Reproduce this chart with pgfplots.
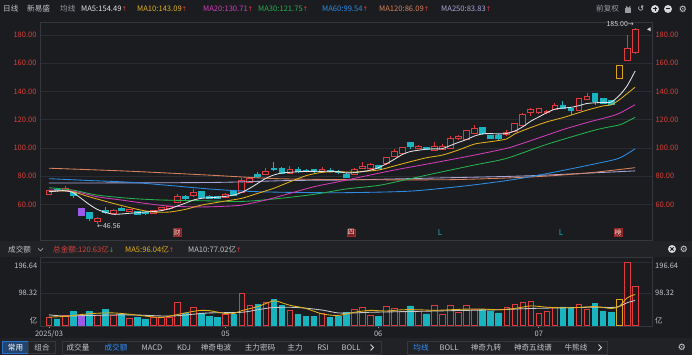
\documentclass[border=0pt]{standalone}
\usepackage{pgfplots}
\pgfplotsset{compat=1.18}
\usepackage{pgfplotstable}
\usepackage{fontspec}
\setmainfont{Noto Sans CJK SC}
\newfontfamily\dv{DejaVu Sans}

\definecolor{bg}{HTML}{1B1C20}
\definecolor{band}{HTML}{212226}
\definecolor{gridc}{HTML}{2B2C31}
\definecolor{border}{HTML}{36373C}
\definecolor{upred}{HTML}{E03A3E}
\definecolor{dncyan}{HTML}{19B4C0}
\definecolor{purp}{HTML}{9B5BE8}
\definecolor{goldc}{HTML}{E0A51E}
\definecolor{labred}{HTML}{D8413B}
\definecolor{txt}{HTML}{C4C4CA}
\definecolor{dim}{HTML}{9A9AA2}
\definecolor{light}{HTML}{D6D6DA}
\definecolor{ma5}{HTML}{E4E4E8}
\definecolor{ma10}{HTML}{E3B01C}
\definecolor{ma20}{HTML}{D23CB9}
\definecolor{ma30}{HTML}{27B04E}
\definecolor{ma60}{HTML}{2D8DE4}
\definecolor{ma120}{HTML}{D9805C}
\definecolor{ma250}{HTML}{A9A6D8}
\definecolor{blueh}{HTML}{2F8FFF}
\definecolor{dngreen}{HTML}{2FB24C}

\newcommand\up{{\color{upred}\dv\fontsize{6.5}{7}\selectfont ↑}}
\newcommand\dn{{\color{dngreen}\dv\fontsize{6.5}{7}\selectfont ↓}}

\pgfplotstableread{
i o h l c t
0 67.2 70.5 66.8 70.3 0
1 70.8 71.3 69.3 69.8 1
2 69.8 73.0 69.3 71.5 0
3 68.6 69.2 64.4 66.2 1
4 57.3 57.8 52.2 52.6 2
5 54.2 54.6 48.5 50.0 1
6 48.3 51.4 46.56 50.2 0
7 56.1 58.0 53.8 54.2 1
8 53.8 56.6 53.3 56.1 0
9 57.3 58.4 55.8 56.1 1
10 55.2 56.8 54.8 56.3 0
11 54.9 55.3 52.6 53.1 1
12 54.5 55.0 53.0 53.5 1
13 53.8 56.3 53.4 55.9 0
14 56.3 58.5 55.9 58.0 0
15 57.0 58.9 56.6 58.4 0
16 61.5 67.4 61.0 65.5 0
17 65.5 67.0 63.6 64.1 1
18 66.2 71.0 65.8 68.6 0
19 69.1 69.6 64.4 64.8 1
20 66.0 66.5 64.1 64.6 1
21 65.8 66.3 63.9 64.4 1
22 65.3 67.9 64.9 67.4 0
23 69.1 69.6 66.2 66.7 1
24 68.6 78.5 68.2 77.3 0
25 76.0 79.7 75.5 78.5 0
26 81.6 83.0 78.5 80.2 1
27 81.6 85.6 81.1 83.2 0
28 85.6 90.3 84.1 84.6 1
29 85.8 86.3 81.9 82.3 1
30 82.3 87.3 81.9 84.9 0
31 84.9 86.5 82.8 83.2 1
32 84.4 85.2 83.0 83.5 1
33 84.7 85.2 82.8 83.2 1
34 83.2 86.5 82.8 84.7 0
35 84.4 86.0 83.0 83.5 1
36 83.8 84.3 81.4 82.9 1
37 81.6 82.1 78.8 79.3 1
38 81.6 85.6 81.1 85.1 0
39 85.8 90.3 85.4 87.3 0
40 85.3 89.2 84.9 88.7 0
41 87.8 88.3 85.4 85.8 1
42 88.9 93.9 88.5 93.4 0
43 94.3 99.3 93.9 97.9 0
44 96.3 101.0 95.9 100.5 0
45 104.0 104.5 99.5 100.9 1
46 99.8 102.0 99.4 100.9 0
47 100.5 101.0 98.7 99.1 1
48 98.6 104.5 98.2 101.4 0
49 99.1 103.0 98.7 100.9 0
50 99.8 108.3 99.4 106.9 0
51 106.9 109.0 105.5 108.0 0
52 106.2 113.0 105.8 112.5 0
53 110.4 116.0 110.0 113.9 0
54 114.4 114.9 109.7 110.1 1
55 109.0 109.5 106.7 107.1 1
56 109.2 109.7 106.3 106.7 1
57 109.4 112.5 109.0 111.1 0
58 111.8 118.0 111.4 117.5 0
59 116.3 124.6 115.9 124.1 0
60 125.3 128.1 122.7 127.6 0
61 125.0 128.6 124.6 128.1 0
62 125.0 127.0 124.0 125.6 0
63 127.4 132.0 127.0 130.4 0
64 130.4 133.3 127.7 128.1 1
65 128.1 128.6 123.4 126.9 1
66 126.9 135.7 126.5 135.2 0
67 134.7 138.7 134.3 136.3 0
68 138.7 139.2 130.4 133.3 1
69 135.2 135.7 131.3 131.7 1
70 133.5 134.0 130.6 131.0 1
71 149.3 158.8 148.9 158.3 3
72 162.3 180.0 161.8 170.6 0
73 167.5 185.0 167.0 184.2 0
}\candles

\pgfplotstableread{
i v t
0 24 0
1 19 1
2 29 0
3 44 1
4 31 2
5 43 1
6 29 0
7 48 1
8 31 0
9 33 1
10 20 0
11 25 1
12 19 1
13 24 0
14 25 0
15 25 0
16 72 0
17 38 1
18 55 0
19 38 1
20 28 1
21 24 1
22 34 0
23 32 1
24 100 0
25 62 0
26 65 1
27 70 0
28 80 1
29 62 1
30 45 0
31 33 1
32 26 1
33 26 1
34 37 0
35 24 1
36 27 1
37 40 1
38 48 0
39 55 0
40 30 0
41 27 1
42 58 0
43 53 0
44 43 0
45 60 1
46 42 0
47 35 1
48 62 0
49 32 0
50 62 0
51 39 0
52 62 0
53 48 0
54 50 1
55 44 1
56 38 1
57 55 0
58 64 0
59 72 0
60 74 0
61 37 0
62 44 0
63 56 0
64 57 1
65 52 1
66 64 0
67 50 0
68 69 1
69 42 1
70 39 1
71 80 3
72 196.64 0
73 120.63 0
}\vol

\pgfplotstableread{
i m
0 69.0
1 69.6
2 69.8
3 68.4
4 64.4
5 60.1
6 56.6
7 54.5
8 53.1
9 53.3
10 53.8
11 54.2
12 54.8
13 55.0
14 55.7
15 57.0
16 59.0
17 61.0
18 63.2
19 64.4
20 64.8
21 65.2
22 65.8
23 66.7
24 68.6
25 71.5
26 75.0
27 78.5
28 80.9
29 82.3
30 82.8
31 83.2
32 83.4
33 83.5
34 83.5
35 83.5
36 83.3
37 82.4
38 82.6
39 83.3
40 84.3
41 86.0
42 88.8
43 92.0
44 95.4
45 97.5
46 98.4
47 99.2
48 99.4
49 99.6
50 101.8
51 104.0
52 106.0
53 108.5
54 110.0
55 110.2
56 110.0
57 110.3
58 112.0
59 115.0
60 119.0
61 122.0
62 125.0
63 127.5
64 128.3
65 128.8
66 130.0
67 131.5
68 132.0
69 132.3
70 132.5
71 137.0
72 144.0
73 154.49
}\mafive

\pgfplotstableread{
i m
0 69.4
2 69.6
3 69.0
5 65.5
8 60.8
11 56.6
13 54.7
15 54.7
17 56.6
19 59.6
22 62.5
24 64.4
26 67.9
28 71.5
30 76.1
32 80.4
34 82.8
36 83.2
38 83.0
41 84.4
43 87.3
45 90.3
47 93.1
49 95.0
51 98.6
53 102.8
55 104.5
57 106.4
58 110.0
60 114.5
62 118.5
64 121.5
66 125.0
67 126.8
69 129.8
70 130.5
71 134.0
72 138.5
73 143.09
}\maten

\pgfplotstableread{
i m
0 70.2
3 69.5
6 65.5
9 63.2
12 60.8
15 58.9
19 58.3
22 58.8
24 59.6
27 63.2
30 67.9
33 72.6
36 76.1
38 78.5
43 84.4
48 89.6
53 95.0
57 99.8
59 103.3
64 113.0
67 118.0
70 122.5
71 124.5
72 127.5
73 130.71
}\matwenty

\pgfplotstableread{
i m
0 71.9
3 70.2
6 66.7
10 64.4
14 63.2
19 62.7
24 62.2
28 63.9
33 67.2
37 71.0
41 73.5
44 77.0
48 82.0
53 88.0
57 92.7
62 102.6
68 112.7
71 116.3
72 118.8
73 121.75
}\mathirty

\pgfplotstableread{
i m
0 78.3
5 77.0
10 75.8
15 73.5
20 71.0
25 69.3
30 68.6
37 68.4
45 69.5
52 73.3
58 77.8
63 83.0
68 88.8
71 92.8
73 99.54
}\masixty

\pgfplotstableread{
i m
0 85.7
10 83.6
20 80.8
28 78.4
37 77.6
50 77.6
60 79.5
67 82.3
73 86.09
}\maonetwenty

\pgfplotstableread{
i m
0 75.2
20 75.6
30 77.0
37 77.4
50 79.0
60 80.4
73 83.83
}\matwofifty

\pgfplotstableread{
i m
0 25
2 27
4 33
6 37
8 38
10 34
12 28
14 24
16 33
18 43
19 46
20 45
22 36
23 36
24 45
26 58
28 76
29 70
30 62
32 52
34 35
36 30
38 40
40 46
42 44
44 48
46 48
48 46
50 48
52 50
54 50
56 48
58 52
60 60
62 56
64 54
66 55
68 58
70 52
71 58
72 85
73 96.04
}\vmafive

\pgfplotstableread{
i m
0 32
2 28
5 30
10 32
15 28
18 34
20 38
24 40
26 48
28 55
31 55
34 47
36 38
38 38
40 40
44 42
48 44
52 46
56 48
60 52
64 54
68 56
70 55
71 58
72 70
73 77.02
}\vmaten

\pgfplotsset{
 wick0/.style={draw=upred, line width=0.8pt},
 wick1/.style={draw=dncyan, line width=0.8pt},
 wick2/.style={draw=purp, line width=0.8pt},
 wick3/.style={draw=goldc, line width=0.8pt},
 body0/.style={draw=upred, fill=bg, line width=0.8pt},
 body1/.style={draw=dncyan, fill=dncyan, line width=0.8pt},
 body2/.style={draw=purp, fill=purp, line width=0.8pt},
 body3/.style={draw=goldc, fill=bg, line width=0.8pt},
 maline/.style={line width=0.85pt, smooth, tension=0.45},
}

\begin{document}
\begin{tikzpicture}
\useasboundingbox (0,0) rectangle (692pt,355pt);
\fill[bg] (0,0) rectangle (692pt,355pt);
\begin{scope}[shift={(0pt,355pt)}, x=1pt, y=-1pt]
  \fill[band] (0,241) rectangle (692,257);
  \fill[band] (0,338) rectangle (692,355);
  % volume panel grid lines (at 98.32 and 196.64)
  \draw[gridc, line width=0.7pt] (40,262.4) -- (652,262.4);
  \draw[gridc, line width=0.7pt] (40,293.7) -- (652,293.7);
\end{scope}

% ---------- price panel ----------
\begin{axis}[
  at={(40pt,333pt)}, anchor=north west,
  scale only axis, width=612pt, height=218pt,
  xmin=-1.12, xmax=75.1, ymin=34.9, ymax=189.2,
  axis line style={draw=border, line width=0.6pt},
  xtick=\empty, ytick={60,80,...,180},
  ymajorgrids, grid style={draw=gridc, line width=0.7pt},
  major tick length=0pt,
  yticklabel style={text=labred, font=\fontsize{7.5}{9}\selectfont},
  /pgf/number format/.cd, fixed, fixed zerofill, precision=2, assume math mode=true,
]
\pgfplotsforeachungrouped \r in {0,...,73}{%
  \pgfplotstablegetelem{\r}{o}\of\candles \let\vo=\pgfplotsretval
  \pgfplotstablegetelem{\r}{h}\of\candles \let\vh=\pgfplotsretval
  \pgfplotstablegetelem{\r}{l}\of\candles \let\vl=\pgfplotsretval
  \pgfplotstablegetelem{\r}{c}\of\candles \let\vc=\pgfplotsretval
  \pgfplotstablegetelem{\r}{t}\of\candles \let\vt=\pgfplotsretval
  \pgfmathsetmacro\xa{\r-0.36}%
  \pgfmathsetmacro\xb{\r+0.36}%
  \pgfmathsetmacro\bl{min(\vo,\vc)}%
  \pgfmathsetmacro\bh{max(\vo,\vc)}%
  \edef\tmp{%
    \noexpand\addplot[wick\vt] coordinates {(\r,\vl) (\r,\bl)};
    \noexpand\addplot[wick\vt] coordinates {(\r,\bh) (\r,\vh)};
    \noexpand\addplot[body\vt] coordinates {(\xa,\bl) (\xb,\bl) (\xb,\bh) (\xa,\bh)} -- cycle;
  }\tmp
}
\addplot[maline, draw=ma250] table[x=i,y=m] {\matwofifty};
\addplot[maline, draw=ma120] table[x=i,y=m] {\maonetwenty};
\addplot[maline, draw=ma60] table[x=i,y=m] {\masixty};
\addplot[maline, draw=ma30] table[x=i,y=m] {\mathirty};
\addplot[maline, draw=ma20] table[x=i,y=m] {\matwenty};
\addplot[maline, draw=ma10] table[x=i,y=m] {\maten};
\addplot[maline, draw=ma5] table[x=i,y=m] {\mafive};
\end{axis}

% right-hand price labels
\begin{axis}[
  at={(40pt,333pt)}, anchor=north west,
  scale only axis, width=612pt, height=218pt,
  xmin=-1.12, xmax=75.1, ymin=34.9, ymax=189.2,
  hide x axis, axis y line*=right, axis line style={draw=none},
  ytick={60,80,...,180}, major tick length=0pt,
  yticklabel style={text=labred, font=\fontsize{7.5}{9}\selectfont},
  /pgf/number format/.cd, fixed, fixed zerofill, precision=2, assume math mode=true,
]
\addplot[draw=none] coordinates {(0,100)};
\end{axis}

% ---------- volume panel ----------
\begin{axis}[
  at={(40pt,98pt)}, anchor=north west,
  scale only axis, width=612pt, height=69pt,
  xmin=-1.12, xmax=75.1, ymin=-3.1, ymax=213.7,
  axis line style={draw=border, line width=0.6pt},
  ytick=\empty,
  xtick={0,22,41,61}, xticklabels={2025/03,05,06,07},
  xtick pos=bottom, tick align=outside, major tick length=2.5pt,
  xtick style={draw=dim, line width=0.8pt},
  xticklabel style={text=txt, font=\fontsize{7.5}{9}\selectfont, yshift=1pt},
]
\addplot[ybar, bar width=0.7, bar shift=0pt, draw=upred, fill=bg, line width=0.7pt]
  table[x=i, y=v, restrict expr to domain={\thisrow{t}}{0:0}] {\vol};
\addplot[ybar, bar width=0.7, bar shift=0pt, draw=dncyan, fill=dncyan, line width=0.7pt]
  table[x=i, y=v, restrict expr to domain={\thisrow{t}}{1:1}] {\vol};
\addplot[ybar, bar width=0.7, bar shift=0pt, draw=purp, fill=purp, line width=0.7pt]
  table[x=i, y=v, restrict expr to domain={\thisrow{t}}{2:2}] {\vol};
\addplot[ybar, bar width=0.7, bar shift=0pt, draw=goldc, fill=bg, line width=0.7pt]
  table[x=i, y=v, restrict expr to domain={\thisrow{t}}{3:3}] {\vol};
\addplot[maline, draw=light!85!gray] table[x=i,y=m] {\vmaten};
\addplot[maline, draw=ma10] table[x=i,y=m] {\vmafive};
\end{axis}

% ---------- texts and decorations ----------
\begin{scope}[shift={(0pt,355pt)}, x=1pt, y=-1pt, font=\fontsize{7.6}{9}\selectfont]
  % header
  \node[anchor=west, text=txt, inner sep=0] at (3,9) {日线};
  \node[anchor=west, text=txt, inner sep=0] at (27,9) {新易盛};
  \node[anchor=west, text=dim, inner sep=0] at (60,9) {均线};
  \node[anchor=west, text=ma5, inner sep=0] at (81,9) {MA5:154.49\up};
  \node[anchor=west, text=ma10, inner sep=0] at (137,9) {MA10:143.09\up};
  \node[anchor=west, text=ma20, inner sep=0] at (203,9) {MA20:130.71\up};
  \node[anchor=west, text=ma30, inner sep=0] at (258,9) {MA30:121.75\up};
  \node[anchor=west, text=ma60, inner sep=0] at (322,9) {MA60:99.54\up};
  \node[anchor=west, text=ma120, inner sep=0] at (379,9) {MA120:86.09\up};
  \node[anchor=west, text=ma250, inner sep=0] at (441,9) {MA250:83.83\up};
  \node[anchor=west, text=dim, inner sep=0] at (596,9) {前复权};
  % icons
  \fill[dim] (625.2,8.3) rectangle (631.2,13);
  \draw[dim, line width=0.9pt] (626.5,8.3) -- (626.5,6.8) arc (180:0:1.7) -- (629.9,8.3);
  \node[text=light, inner sep=0, font=\dv\fontsize{8}{9}\selectfont] at (641,9) {↺};
  \fill[light] (655,9) circle (4);
  \draw[bg, line width=1pt] (652.8,9) -- (657.2,9) (655,6.8) -- (655,11.2);
  \fill[light] (668,9) circle (4);
  \draw[bg, line width=1pt] (665.8,9) -- (670.2,9);
  \node[text=light, inner sep=0, font=\dv\fontsize{9}{9}\selectfont] at (683,9) {⚙};

  % main panel markers
  \node[anchor=west, text=light, inner sep=0, font=\fontsize{7}{8}\selectfont] at (97,225.7) {{\dv ←}46.56};
  \node[anchor=east, text=light, inner sep=0, font=\fontsize{7}{8}\selectfont] at (634,24.5) {185.00{\dv →}};
  \fill[light] (647,29.3) -- (650.5,27.3) -- (650.5,31.3) -- cycle;
  \node[fill=upred!55!black, draw=upred!70!black, text=red!15!white, inner sep=0.8pt, font=\fontsize{7}{8}\selectfont] at (177,232.5) {财};
  \node[fill=upred!55!black, draw=upred!70!black, text=red!15!white, inner sep=0.8pt, font=\fontsize{7}{8}\selectfont] at (351,232.5) {四};
  \node[fill=upred!55!black, draw=upred!70!black, text=red!15!white, inner sep=0.8pt, font=\fontsize{7}{8}\selectfont] at (618,232.5) {榜};
  \node[text=dncyan, inner sep=0, font=\fontsize{8}{8}\selectfont] at (440,233) {L};
  \node[text=dncyan, inner sep=0, font=\fontsize{8}{8}\selectfont] at (561,233) {L};

  % volume header
  \node[anchor=west, text=txt, inner sep=0] at (8,249.5) {成交额};
  \draw[dim, line width=0.7pt] (38,248.3) -- (40.5,250.8) -- (43,248.3);
  \node[anchor=west, text=labred, inner sep=0] at (53,249.5) {总金额:120.63亿\dn};
  \node[anchor=west, text=ma10, inner sep=0] at (125,249.5) {MA5:96.04亿\up};
  \node[anchor=west, text=txt, inner sep=0] at (188,249.5) {MA10:77.02亿\up};
  \fill[light] (672,249) circle (4);
  \draw[bg, line width=1pt] (670.4,247.4) -- (673.6,250.6) (670.4,250.6) -- (673.6,247.4);
  \node[text=light, inner sep=0, font=\dv\fontsize{9}{9}\selectfont] at (684,249) {⚙};

  % volume labels
  \begin{scope}[font=\fontsize{7.5}{9}\selectfont]
  \node[anchor=east, text=txt, inner sep=0] at (37.5,266) {196.64};
  \node[anchor=east, text=txt, inner sep=0] at (37.5,292.5) {98.32};
  \node[anchor=east, text=txt, inner sep=0] at (37.5,320.5) {亿};
  \node[anchor=west, text=txt, inner sep=0] at (655,266) {196.64};
  \node[anchor=west, text=txt, inner sep=0] at (655,292.5) {98.32};
  \node[anchor=west, text=txt, inner sep=0] at (655,320.5) {亿};
  \end{scope}

  % bottom toolbar
  \draw[fill=blueh!35!bg, draw=blueh!80!black, line width=0.7pt] (2.5,341.5) rectangle (28.5,353.5);
  \node[text=white, inner sep=0] at (15.5,347.5) {常用};
  \draw[draw=border, line width=0.7pt] (28.5,341.5) rectangle (55.5,353.5);
  \node[text=txt, inner sep=0] at (42,347.5) {组合};
  \draw[draw=border, line width=0.7pt] (62,341) rectangle (381,354.3);
  \node[text=txt, inner sep=0] at (78,347.5) {成交量};
  \node[text=blueh, inner sep=0] at (116,347.5) {成交额};
  \node[text=txt, inner sep=0] at (152,347.5) {MACD};
  \node[text=txt, inner sep=0] at (184,347.5) {KDJ};
  \node[text=txt, inner sep=0] at (216,347.5) {神奇电波};
  \node[text=txt, inner sep=0] at (260,347.5) {主力密码};
  \node[text=txt, inner sep=0] at (295,347.5) {主力};
  \node[text=txt, inner sep=0] at (323,347.5) {RSI};
  \node[text=txt, inner sep=0] at (351,347.5) {BOLL};
  \draw[light, line width=0.9pt] (370.5,344.5) -- (373.5,347.5) -- (370.5,350.5);
  \draw[draw=border, line width=0.7pt] (407,341) rectangle (607,354.3);
  \node[text=blueh, inner sep=0] at (421,347.5) {均线};
  \node[text=txt, inner sep=0] at (449,347.5) {BOLL};
  \node[text=txt, inner sep=0] at (486,347.5) {神奇九转};
  \node[text=txt, inner sep=0] at (533,347.5) {神奇五线谱};
  \node[text=txt, inner sep=0] at (576,347.5) {牛熊线};
  \draw[light, line width=0.9pt] (598.5,344.5) -- (601.5,347.5) -- (598.5,350.5);
  \node[text=light, inner sep=0, font=\dv\fontsize{9}{9}\selectfont] at (682,347.5) {⚙};
\end{scope}
\end{tikzpicture}
\end{document}
